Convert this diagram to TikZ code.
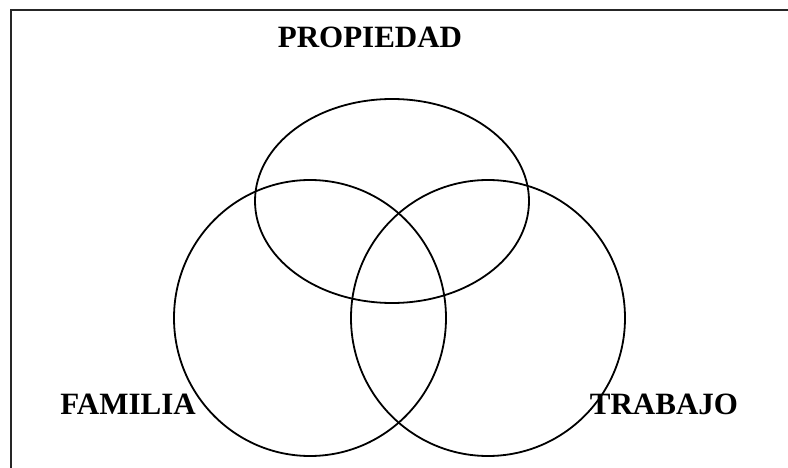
\documentclass[tikz,border=0pt]{standalone}
\usepackage{fontspec}
\setmainfont{Liberation Serif}
\usetikzlibrary{positioning}

\begin{document}
\begin{tikzpicture}[
    x=1pt, y=-1pt,
    ring/.style={draw=black, line width=1.8pt},
    frameline/.style={draw=black!85, line width=2.6pt},
    tag/.style={font=\fontsize{31}{36}\selectfont\bfseries, anchor=base, inner sep=0pt}
]
\useasboundingbox (0,0) rectangle (788,468);

% Frame (only top and left edges show)
\coordinate (fr-tl) at (11,10);
\coordinate (fr-tr) at (790,10);
\coordinate (fr-bl) at (11,470);
\draw[frameline] (fr-tr) -- (fr-tl) -- (fr-bl);

% Three overlapping rings
\draw[ring] (392,201) ellipse [x radius=137, y radius=102];
\draw[ring] (310,318) ellipse [x radius=136, y radius=138];
\draw[ring] (488,318) ellipse [x radius=137, y radius=138];

% Labels
\node[tag] (propiedad) at (370,48) {PROPIEDAD};
\node[tag] (familia) at (128,414) {FAMILIA};
\node[tag] (trabajo) at (664,414) {TRABAJO};

\end{tikzpicture}
\end{document}
